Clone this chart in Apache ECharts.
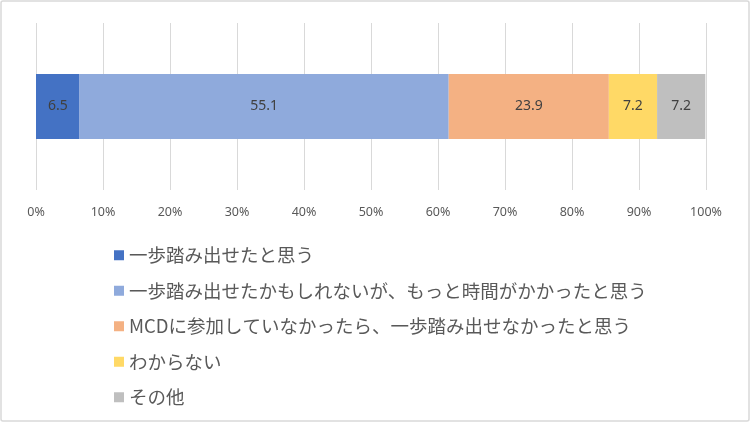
<!DOCTYPE html>
<html>
<head>
<meta charset="utf-8">
<style>
  html, body { margin: 0; padding: 0; background: #fff; }
  #chart { width: 751px; height: 423px; }
</style>
<script src="https://cdn.jsdelivr.net/npm/echarts@6/dist/echarts.min.js"></script>
</head>
<body>
<div id="chart"></div>
<script>
const categories = ['回答'];
const seriesNames = [
    '一歩踏み出せたと思う',
    '一歩踏み出せたかもしれないが、もっと時間がかかったと思う',
    'MCDに参加していなかったら、一歩踏み出せなかったと思う',
    'わからない',
    'その他'
];
const seriesValues = [6.5, 55.1, 23.9, 7.2, 7.2];
const seriesColors = ['#4472C4', '#8FAADC', '#F4B183', '#FFD966', '#BFBFBF'];
const percentTicks = [0, 10, 20, 30, 40, 50, 60, 70, 80, 90, 100];

(function () {
    let myChart = echarts.init(document.getElementById('chart'));

    const option = {
        animation: false,
        color: seriesColors,
        graphic: [
            {
                type: 'rect',
                shape: { x: 1, y: 1, width: 748, height: 420, r: 2 },
                style: { fill: 'none', stroke: '#d9d9d9', lineWidth: 1.5 },
                silent: true
            }
        ],
        grid: {
            left: 36,
            right: 45,
            top: 23,
            bottom: 233,
            containLabel: false
        },
        legend: {
            orient: 'vertical',
            left: 109,
            top: 241,
            itemWidth: 10,
            itemHeight: 10,
            itemGap: 17,
            icon: 'rect',
            data: seriesNames,
            textStyle: {
                color: '#595959',
                fontSize: 18.5,
                lineHeight: 18,
                fontFamily: 'Noto Sans CJK JP'
            }
        },
        xAxis: {
            type: 'value',
            min: percentTicks[0],
            max: percentTicks[percentTicks.length - 1],
            interval: percentTicks[1] - percentTicks[0],
            axisLine: { show: false },
            axisTick: { show: false },
            axisLabel: {
                color: '#595959',
                fontSize: 12.5,
                fontFamily: 'Noto Sans',
                margin: 16,
                formatter: '{value}%'
            },
            splitLine: {
                lineStyle: { color: '#d9d9d9', width: 1 }
            }
        },
        yAxis: {
            type: 'category',
            data: categories,
            axisLine: { show: false },
            axisTick: { show: false },
            axisLabel: { show: false }
        },
        series: seriesNames.map((name, i) => ({
            name: name,
            type: 'bar',
            stack: 'total',
            barWidth: 65,
            data: [seriesValues[i]],
            label: {
                show: true,
                position: 'inside',
                color: '#404040',
                fontSize: 14,
                fontFamily: 'Noto Sans'
            }
        }))
    };

    myChart.setOption(option);
})();
</script>
</body>
</html>
